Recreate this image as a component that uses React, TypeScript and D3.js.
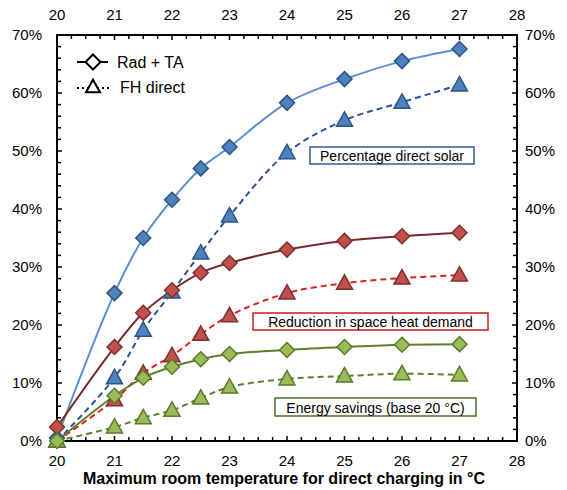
import React from "react";
import * as d3 from "d3";

const temps = [20, 21, 21.5, 22, 22.5, 23, 24, 25, 26, 27];
const solarRad = [0.5, 25.5, 35.0, 41.6, 47.0, 50.7, 58.3, 62.4, 65.5, 67.6];
const solarFH = [0, 10.9, 19.1, 25.7, 32.4, 38.8, 49.7, 55.3, 58.4, 61.4];
const heatRad = [2.4, 16.2, 22.1, 26.0, 29.0, 30.7, 33.0, 34.5, 35.3, 35.9];
const heatFH = [0, 7.1, 11.7, 14.7, 18.4, 21.6, 25.5, 27.2, 28.1, 28.6];
const saveRad = [0, 7.8, 10.9, 12.8, 14.1, 15.0, 15.7, 16.2, 16.6, 16.7];
const saveFH = [0, 2.4, 4.0, 5.3, 7.4, 9.3, 10.7, 11.2, 11.6, 11.4];

const xTicks = [20, 21, 22, 23, 24, 25, 26, 27, 28];
const yTicks = [0, 10, 20, 30, 40, 50, 60, 70];
const boxLabels = ["Percentage direct solar", "Reduction in space heat demand", "Energy savings (base 20 °C)"];
const legendLabels = ["Rad + TA", "FH direct"];
const xTitle = "Maximum room temperature for direct charging in °C";

type S = { vals: number[]; marker: "d" | "t"; line: string; fill: string; stroke: string; dash?: string };
const series: S[] = [
  { vals: solarFH, marker: "t", line: "#2A5490", fill: "#4F81BD", stroke: "#2C5586", dash: "6,4" },
  { vals: solarRad, marker: "d", line: "#5B8FD0", fill: "#4F81BD", stroke: "#2C5586" },
  { vals: heatFH, marker: "t", line: "#E0201B", fill: "#C0504D", stroke: "#7F2F2D", dash: "6,4" },
  { vals: heatRad, marker: "d", line: "#7A2A2A", fill: "#C0504D", stroke: "#7F2F2D" },
  { vals: saveFH, marker: "t", line: "#5E7F2E", fill: "#9BBB59", stroke: "#5A7A2C", dash: "6,4" },
  { vals: saveRad, marker: "d", line: "#5E7F2E", fill: "#9BBB59", stroke: "#5A7A2C" },
];

const L = 57, R = 517, T = 35, B = 441;
const FONT = "Liberation Sans, Arial, sans-serif";

function diamond(cx: number, cy: number, r: number) {
  return `M${cx},${cy - r}L${cx + r},${cy}L${cx},${cy + r}L${cx - r},${cy}Z`;
}
function triangle(cx: number, cy: number, r: number) {
  return `M${cx},${cy - r * 1.05}L${cx + r},${cy + r * 0.75}L${cx - r},${cy + r * 0.75}Z`;
}

export default function App() {
  const x = d3.scaleLinear().domain([20, 28]).range([L, R]);
  const y = d3.scaleLinear().domain([0, 70]).range([B, T]);
  const line = d3
    .line<number>()
    .x((_, i) => x(temps[i]))
    .y((d) => y(d))
    .curve(d3.curveCatmullRom.alpha(0.5));

  const minorX = d3.range(20, 28.001, 0.25);
  const minorY = d3.range(0, 70.001, 2);

  return (
    <svg width={567} height={490} style={{ position: "absolute", left: 0, top: 0 }} fontFamily={FONT}>
      <rect x={0} y={0} width={567} height={490} fill="#fff" />
      {/* ticks */}
      {minorX.map((v, i) => {
        const major = Math.abs(v - Math.round(v)) < 1e-6;
        const len = major ? 5 : 4;
        return (
          <g key={"mx" + i} stroke="#000" strokeWidth={1.5}>
            <line x1={x(v)} x2={x(v)} y1={B} y2={B - len} />
            <line x1={x(v)} x2={x(v)} y1={T} y2={T + len} />
          </g>
        );
      })}
      {minorY.map((v, i) => {
        const major = v % 10 === 0;
        const len = major ? 5 : 4;
        return (
          <g key={"my" + i} stroke="#000" strokeWidth={1.5}>
            <line x1={L} x2={L + len} y1={y(v)} y2={y(v)} />
            <line x1={R} x2={R - len} y1={y(v)} y2={y(v)} />
          </g>
        );
      })}
      <rect x={L} y={T} width={R - L} height={B - T} fill="none" stroke="#000" strokeWidth={2} />

      {/* tick labels */}
      {xTicks.map((v) => (
        <g key={"xl" + v} fontSize={15} textAnchor="middle" fill="#000">
          <text x={x(v)} y={B + 25}>{v}</text>
          <text x={x(v)} y={T - 15}>{v}</text>
        </g>
      ))}
      {yTicks.map((v) => (
        <g key={"yl" + v} fontSize={15} fill="#000">
          <text x={L - 15} y={y(v) + 5} textAnchor="end">{v}%</text>
          <text x={R + 8} y={y(v) + 5} textAnchor="start">{v}%</text>
        </g>
      ))}
      <text x={284} y={484} textAnchor="middle" fontSize={16} fontWeight="bold">{xTitle}</text>

      {/* lines */}
      {series.map((s, i) => (
        <path key={"l" + i} d={line(s.vals) || ""} fill="none" stroke={s.line} strokeWidth={2} strokeDasharray={s.dash} />
      ))}
      {/* markers */}
      {series.map((s, i) => (
        <g key={"m" + i}>
          {s.vals.map((v, j) => (
            <path
              key={j}
              d={s.marker === "d" ? diamond(x(temps[j]), y(v), 7.5) : triangle(x(temps[j]), y(v), 8)}
              fill={s.fill}
              stroke={s.stroke}
              strokeWidth={1.5}
            />
          ))}
        </g>
      ))}

      {/* annotation boxes */}
      <rect x={310} y={147} width={164} height={17} fill="#fff" stroke="#2F5C9A" strokeWidth={1.5} />
      <text x={392} y={161} textAnchor="middle" fontSize={14}>{boxLabels[0]}</text>
      <rect x={253} y={313} width={235} height={17} fill="#fff" stroke="#D0191A" strokeWidth={1.5} />
      <text x={370.5} y={327} textAnchor="middle" fontSize={14}>{boxLabels[1]}</text>
      <rect x={275} y={398} width={201} height={18} fill="#fff" stroke="#4F6B28" strokeWidth={1.5} />
      <text x={375.5} y={412.5} textAnchor="middle" fontSize={14}>{boxLabels[2]}</text>

      {/* legend */}
      <line x1={77} x2={108} y1={62} y2={62} stroke="#000" strokeWidth={2} />
      <path d={diamond(93, 62, 7.5)} fill="#fff" stroke="#000" strokeWidth={2} />
      <text x={117} y={68} fontSize={16}>{legendLabels[0]}</text>
      <line x1={77} x2={110} y1={88} y2={88} stroke="#000" strokeWidth={2} strokeDasharray="2,3" />
      <path d={triangle(93, 87, 7)} fill="#fff" stroke="#000" strokeWidth={2} />
      <text x={120} y={93} fontSize={16}>{legendLabels[1]}</text>
    </svg>
  );
}
